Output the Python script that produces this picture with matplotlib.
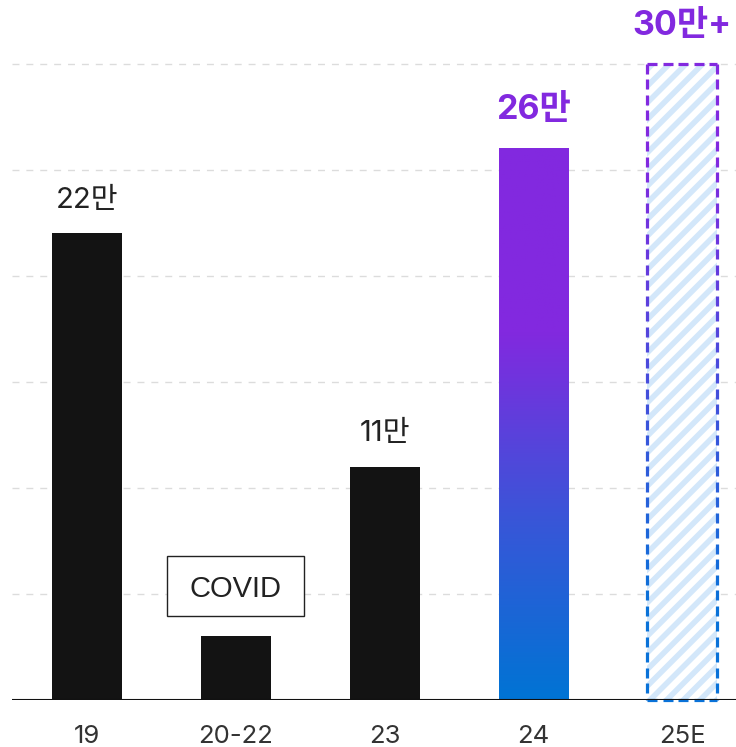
import numpy as np
import matplotlib
matplotlib.use("Agg")
import matplotlib.pyplot as plt
from matplotlib.colors import LinearSegmentedColormap, to_rgb
from matplotlib.collections import LineCollection
from matplotlib.patches import Rectangle

plt.rcParams['font.family'] = ['Inter', 'Noto Sans CJK KR', 'DejaVu Sans']

categories = ["19", "20-22", "23", "24", "25E"]
values = [22, 3, 11, 26, 30]
labels = ["22만", "", "11만", "26만", "30만+"]
grid_ticks = [5, 10, 15, 20, 25, 30]

PURPLE = "#8229DF"
BLUE = "#0074D4"
BLACK = "#131313"

fig = plt.figure(figsize=(7.36, 7.47), dpi=100)
ax = fig.add_axes([12/736, 47/747, 724/736, 700/747])
ax.set_xlim(-0.503, 4.36)
ax.set_ylim(0, 33)
for s in ax.spines.values():
    s.set_visible(False)
ax.set_yticks([])

for g in grid_ticks:
    ax.axhline(g, color="#dcdcdc", lw=1, dashes=(5, 5), zorder=0)

x = np.arange(len(categories))
w = 0.47
# black bars
for i in [0, 1, 2]:
    ax.bar(x[i], values[i], width=w, color=BLACK, zorder=2)

# gradient bar
i = 3
cmap = LinearSegmentedColormap.from_list("pb", [BLUE, "#3A55D8", PURPLE, PURPLE])
grad = np.linspace(0, 1, 256).reshape(-1, 1)
ax.imshow(grad, cmap=cmap, origin="lower", aspect="auto",
          extent=[x[i]-w/2, x[i]+w/2, 0, values[i]], zorder=2)

# hatched estimate bar
i = 4
plt.rcParams['hatch.linewidth'] = 4.0
ax.add_patch(Rectangle((x[i]-w/2, 0), w, values[i], facecolor="white",
                       edgecolor="#D3E7FA", hatch="//", lw=0, zorder=2))
# dashed gradient outline
c_top = np.array(to_rgb(PURPLE))
c_bot = np.array(to_rgb("#0A72D8"))
def col(yv):
    t = yv / values[i]
    t = min(max((t - 0.15) / 0.7, 0), 1)
    return tuple(c_bot*(1-t) + c_top*t)
segs, cols = [], []
dy_d, dy_g = 0.47, 0.26
for xe in [x[i]-w/2, x[i]+w/2]:
    y0 = values[i]
    while y0 > 0:
        y1 = max(y0 - dy_d, 0)
        segs.append([(xe, y0), (xe, y1)])
        cols.append(col((y0+y1)/2))
        y0 = y1 - dy_g
dx_d, dx_g = 0.067, 0.037
for ye in [0, values[i]]:
    x0 = x[i]-w/2
    while x0 < x[i]+w/2:
        x1 = min(x0 + dx_d, x[i]+w/2)
        segs.append([(x0, ye), (x1, ye)])
        cols.append(col(ye))
        x0 = x1 + dx_g
ax.add_collection(LineCollection(segs, colors=cols, linewidths=2.3, zorder=4,
                                 capstyle="butt", clip_on=False))

# baseline
ax.axhline(0, color="#111111", lw=1.5, zorder=5)

# value labels
for i, (v, lab) in enumerate(zip(values, labels)):
    if not lab:
        continue
    if i >= 3:
        ax.text(x[i], v + 1.37, lab, ha="center", va="baseline", fontsize=24.5,
                fontweight="bold", color=PURPLE)
    else:
        ax.text(x[i], v + 1.2, lab, ha="center", va="baseline", fontsize=21,
                color="#222222")

# COVID annotation box
bw, bh, bcy = 0.92, 2.83, 5.38
ax.add_patch(Rectangle((x[1]-bw/2, bcy-bh/2), bw, bh, facecolor="white",
                       edgecolor="#222222", lw=1, zorder=3))
ax.text(x[1], bcy, "COVID", ha="center", va="center_baseline", fontsize=21,
        color="#222222", family=["Liberation Sans"], zorder=4)

ax.set_xticks(x)
ax.set_xticklabels(categories, fontsize=18.5, color="#333333")
ax.tick_params(axis="x", length=0, pad=18)

fig.savefig("out.png", dpi=100)
